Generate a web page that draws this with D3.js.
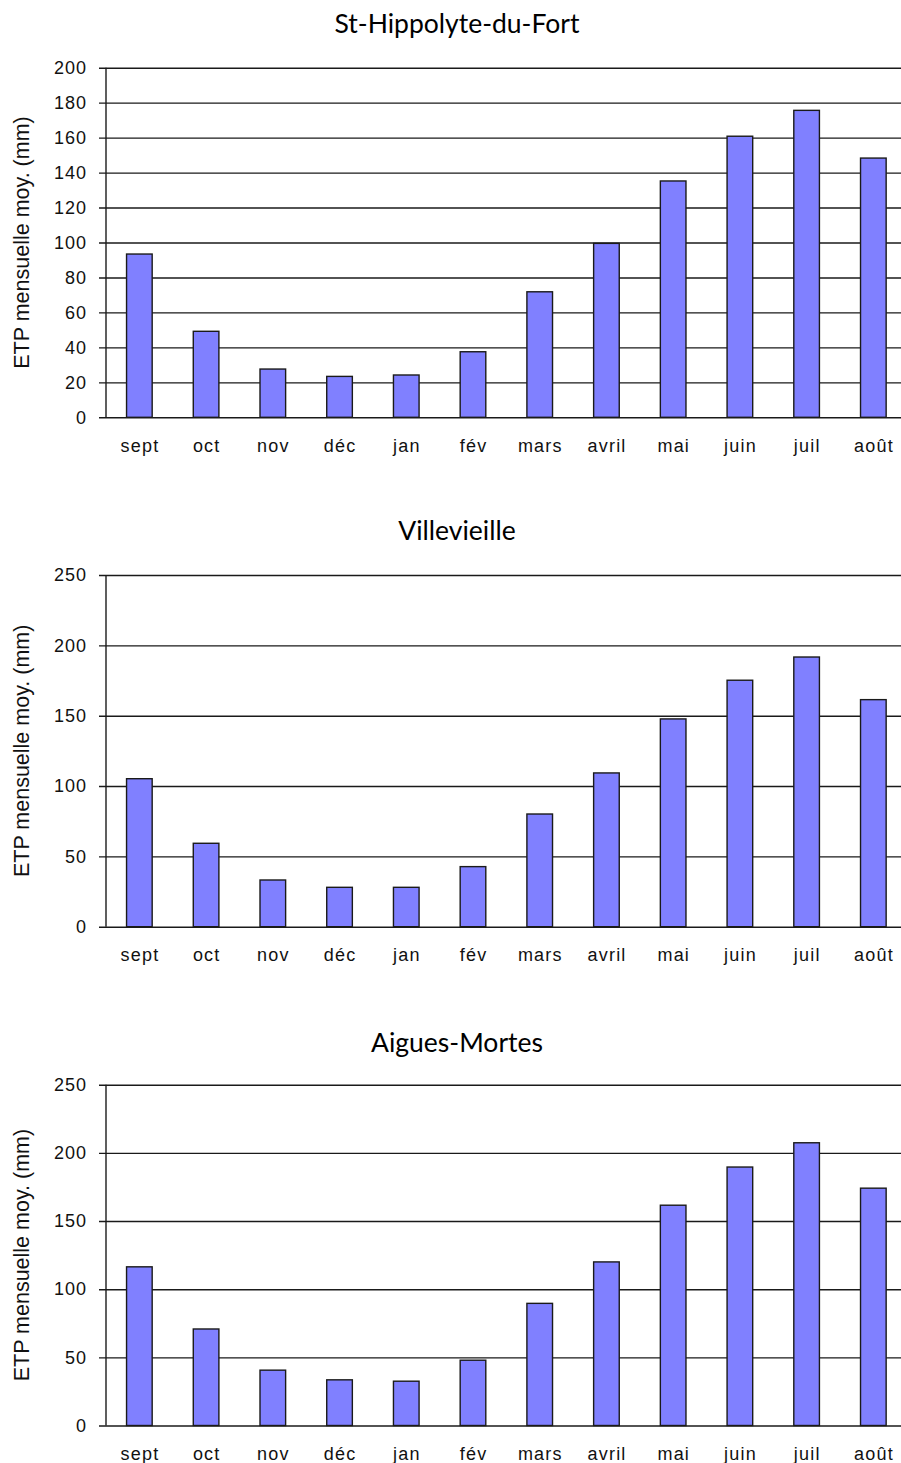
<!DOCTYPE html>
<html>
<head>
<meta charset="utf-8">
<script src="https://cdn.jsdelivr.net/npm/d3@7"></script>
<style>
  body { margin: 0; background: #fff; }
  svg { display: block; }
  .tick text { font-family: "Liberation Sans", Arial, sans-serif; }
</style>
</head>
<body>
<svg id="svg" width="901" height="1463"></svg>
<script>
// months, sept -> août
const months = ["sept", "oct", "nov", "déc", "jan", "fév", "mars", "avril", "mai", "juin", "juil", "août"]

// ETP mensuelle moyenne (mm)
const stHippolyte = [93.4, 49.2, 27.6, 23.4, 24.2, 37.5, 71.8, 99.5, 135.2, 160.8, 175.6, 148.3]
const villevieille = [105.2, 59.3, 33.2, 28, 28, 42.7, 80.1, 109.3, 147.7, 175.2, 191.7, 161.4]
const aiguesMortes = [116.4, 70.8, 40.6, 33.5, 32.5, 47.9, 89.6, 120, 161.6, 189.6, 207.4, 174.1]

const titles = ["St-Hippolyte-du-Fort", "Villevieille", "Aigues-Mortes"]
const ticks200 = [0, 20, 40, 60, 80, 100, 120, 140, 160, 180, 200]
const ticks250 = [0, 50, 100, 150, 200, 250]
const yLabel = "ETP mensuelle moy. (mm)"

const svg = d3.select('#svg')
const left = 106, right = 906.7

const x = d3.scaleBand()
  .domain(months)
  .range([left, right])
  .paddingInner(0.616)
  .paddingOuter(0.308)

function drawPanel(title, values, ticks, top, bottom, titleY) {
  const g = svg.append('g')
  const y = d3.scaleLinear()
    .domain([0, ticks[ticks.length - 1]])
    .range([bottom, top])

  g.append('text')
    .attr('x', 457)
    .attr('y', titleY)
    .attr('text-anchor', 'middle')
    .style('font-family', 'Lato, "Open Sans", sans-serif')
    .style('font-size', '26.5px')
    .attr('fill', '#000')
    .text(title)

  // y axis with gridlines
  const yAxis = d3.axisLeft(y)
    .tickValues(ticks)
    .tickSize(-(right - left))
    .tickPadding(19)
    .tickFormat(d3.format('d'))
  const ya = g.append('g')
    .attr('transform', `translate(${left},0)`)
    .call(yAxis)
  ya.select('.domain').remove()
  ya.selectAll('.tick line')
    .attr('x1', -7)
    .attr('stroke', '#1a1a1a')
    .attr('stroke-width', 1.4)
  ya.selectAll('.tick text')
    .style('font-size', '18px')
    .style('letter-spacing', '1px')
    .attr('fill', '#111')

  // vertical axis line
  g.append('line')
    .attr('x1', left).attr('x2', left)
    .attr('y1', y(ticks[ticks.length - 1])).attr('y2', y(0))
    .attr('stroke', '#1a1a1a')
    .attr('stroke-width', 1.4)

  g.selectAll('rect.bar')
    .data(values)
    .enter()
    .append('rect')
    .attr('class', 'bar')
    .attr('x', (d, i) => x(months[i]))
    .attr('width', x.bandwidth())
    .attr('y', d => y(d))
    .attr('height', d => y(0) - y(d))
    .attr('fill', '#8080ff')
    .attr('stroke', '#1a1a1a')
    .attr('stroke-width', 1.4)

  // month labels
  const xAxis = d3.axisBottom(x).tickSize(0).tickPadding(22)
  const xa = g.append('g')
    .attr('transform', `translate(0,${bottom})`)
    .call(xAxis)
  xa.select('.domain').remove()
  xa.selectAll('.tick text')
    .style('font-size', '18px')
    .style('letter-spacing', '1.2px')
    .attr('dx', '0.6px')
    .attr('fill', '#111')

  g.append('text')
    .attr('transform', `translate(29,${(top + bottom) / 2}) rotate(-90)`)
    .attr('text-anchor', 'middle')
    .style('font-family', '"Liberation Sans", Arial, sans-serif')
    .style('font-size', '21.5px')
    .attr('fill', '#111')
    .text(yLabel)
}

drawPanel(titles[0], stHippolyte, ticks200, 67.7, 417.3, 33)
drawPanel(titles[1], villevieille, ticks250, 575, 926.7, 540)
drawPanel(titles[2], aiguesMortes, ticks250, 1084.7, 1425.5, 1051.5)
</script>
</body>
</html>
